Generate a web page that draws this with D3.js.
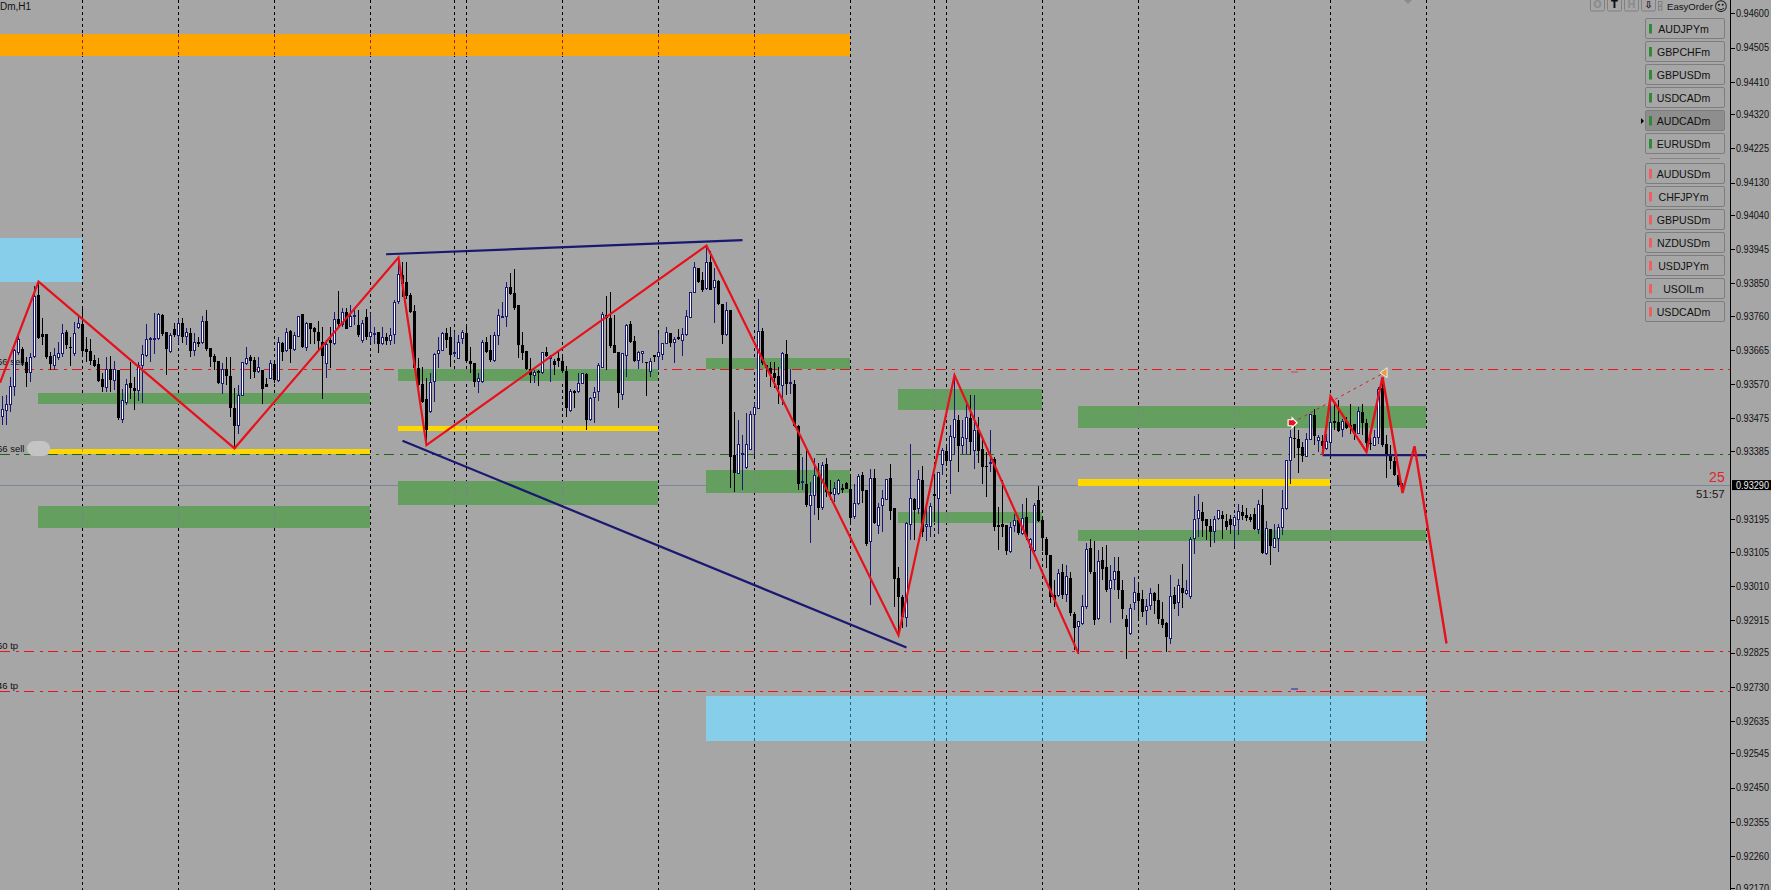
<!DOCTYPE html>
<html><head><meta charset="utf-8">
<style>html,body{margin:0;padding:0;background:#a6a6a6;overflow:hidden}svg{display:block}text{font-family:"Liberation Sans",Arial,sans-serif}</style>
<script src="https://cdn.jsdelivr.net/npm/d3@7/dist/d3.min.js"></script></head><body>
<div id="chart"></div>
<script>
// prices in 1e-5 units, one entry per H1 bar
const opens=[93480,93498,93515,93563,93658,93669,93632,93602,93646,93818,93709,93709,93648,93621,93645,93654,93715,93674,93654,93728,93737,93668,93662,93637,93626,93584,93561,93613,93580,93610,93473,93519,93573,93560,93552,93621,93650,93695,93695,93697,93763,93715,93660,93722,93706,93739,93702,93713,93665,93687,93687,93746,93670,93648,93634,93571,93611,93593,93504,93456,93539,93628,93645,93637,93605,93610,93571,93586,93626,93580,93685,93665,93717,93667,93702,93765,93672,93739,93726,93716,93688,93628,93693,93682,93752,93737,93770,93730,93759,93734,93691,93756,93702,93709,93715,93682,93700,93691,93707,93799,93873,93855,93818,93773,93614,93571,93528,93494,93577,93654,93665,93711,93700,93654,93642,93697,93711,93635,93628,93577,93577,93688,93665,93635,93706,93756,93757,93839,93822,93789,93679,93661,93613,93593,93606,93602,93659,93641,93635,93643,93634,93608,93498,93552,93549,93571,93598,93471,93532,93549,93617,93763,93754,93679,93659,93541,93650,93737,93689,93635,93654,93632,93605,93650,93646,93652,93683,93711,93685,93700,93691,93707,93756,93824,93894,93859,93836,93909,93839,93857,93793,93707,93776,93374,93323,93375,93339,93389,93485,93503,93718,93623,93614,93600,93592,93567,93653,93572,93572,93455,93296,93294,93233,93261,93313,93229,93348,93271,93265,93267,93281,93296,93280,93202,93239,93317,93276,93132,93309,93179,93232,93250,93309,93225,93032,92980,92922,93181,93250,93225,93303,93176,93176,93265,93253,93347,93384,93357,93422,93470,93401,93419,93477,93387,93444,93390,93344,93350,93362,93179,93181,93179,93105,93178,93192,93156,93200,93118,93107,93248,93192,93141,93095,92984,92984,93049,92987,93031,92932,92896,92906,92952,93114,93049,92920,93081,93063,93003,93028,93052,93000,92917,92878,92963,92989,92975,92942,92956,92989,92972,92917,92907,92864,92986,92963,93005,92989,92980,93141,93196,93214,93196,93176,93160,93196,93207,93190,93195,93177,93195,93216,93206,93201,93211,93166,93234,93100,93167,93118,93141,93171,93224,93357,93422,93419,93396,93370,93416,93484,93414,93412,93391,93409,93467,93464,93444,93467,93456,93459,93433,93492,93462,93407,93400,93423,93560,93405,93377,93357,93319,93287];
const closes=[93500,93515,93565,93663,93695,93630,93602,93645,93815,93697,93702,93645,93626,93650,93656,93711,93679,93671,93711,93739,93663,93659,93635,93621,93580,93561,93610,93582,93610,93475,93524,93568,93559,93552,93621,93652,93695,93698,93698,93765,93709,93669,93704,93707,93739,93700,93715,93663,93687,93685,93745,93667,93645,93633,93573,93611,93593,93504,93454,93539,93630,93642,93635,93605,93617,93556,93563,93628,93582,93685,93660,93715,93669,93704,93757,93672,93739,93724,93715,93691,93648,93679,93685,93750,93737,93769,93724,93759,93761,93706,93739,93702,93715,93711,93683,93700,93691,93706,93796,93876,93848,93815,93771,93614,93568,93522,93443,93574,93652,93663,93711,93693,93651,93658,93687,93715,93635,93626,93577,93585,93687,93660,93637,93706,93761,93759,93839,93820,93781,93679,93658,93611,93597,93602,93602,93658,93648,93646,93623,93635,93608,93503,93549,93545,93573,93600,93471,93531,93548,93621,93765,93754,93676,93658,93545,93654,93734,93688,93635,93658,93660,93628,93634,93645,93658,93683,93713,93685,93695,93695,93707,93757,93824,93894,93855,93831,93909,93833,93859,93793,93707,93776,93369,93323,93404,93378,93404,93487,93506,93716,93628,93614,93598,93586,93567,93655,93572,93574,93453,93294,93299,93234,93261,93317,93227,93344,93271,93265,93280,93302,93279,93279,93199,93239,93315,93274,93126,93308,93185,93229,93253,93305,93218,93028,92980,92924,93183,93253,93220,93305,93160,93181,93231,93260,93324,93385,93357,93424,93472,93398,93422,93477,93410,93442,93385,93340,93340,93354,93174,93174,93174,93107,93172,93192,93156,93197,93146,93139,93234,93191,93144,93095,92980,92972,93044,92984,93035,92934,92892,92910,92954,93111,93049,92915,93077,93058,93000,93026,93049,93000,92947,92896,92947,92993,92968,92938,92954,92989,92968,92917,92901,92867,92981,92961,93011,92989,92996,93140,93194,93220,93190,93176,93160,93194,93218,93195,93174,93178,93200,93216,93204,93199,93194,93167,93236,93100,93169,93120,93141,93172,93226,93357,93423,93420,93392,93370,93416,93485,93425,93423,93398,93412,93465,93462,93440,93466,93449,93451,93431,93493,93462,93407,93405,93423,93555,93400,93375,93357,93317,93289,93290];
const highs=[93536,93540,93591,93668,93711,93674,93646,93656,93843,93855,93753,93709,93660,93670,93688,93737,93720,93702,93744,93756,93778,93702,93695,93651,93642,93600,93646,93648,93635,93610,93556,93584,93633,93591,93633,93679,93737,93702,93767,93769,93765,93715,93711,93741,93750,93753,93725,93725,93711,93702,93759,93776,93670,93654,93634,93628,93646,93646,93559,93568,93633,93672,93651,93646,93646,93610,93586,93637,93628,93700,93688,93725,93720,93716,93759,93765,93744,93741,93730,93746,93728,93693,93728,93771,93829,93781,93781,93790,93781,93776,93748,93778,93767,93730,93716,93728,93711,93725,93804,93919,93910,93910,93822,93790,93642,93619,93586,93600,93656,93702,93716,93725,93728,93716,93707,93720,93728,93674,93630,93600,93693,93702,93707,93716,93778,93799,93855,93880,93889,93790,93716,93663,93642,93610,93610,93660,93672,93651,93639,93660,93645,93621,93556,93554,93600,93600,93600,93535,93563,93628,93771,93815,93827,93762,93660,93654,93737,93746,93704,93663,93663,93632,93642,93651,93711,93685,93730,93713,93702,93724,93725,93776,93827,93910,93894,93882,93954,93941,93892,93859,93794,93799,93776,93494,93471,93429,93489,93496,93517,93808,93725,93623,93633,93633,93619,93660,93692,93613,93581,93456,93368,93396,93299,93364,93350,93354,93364,93303,93299,93308,93294,93299,93313,93294,93322,93327,93276,93336,93336,93239,93276,93308,93348,93225,93063,92984,93188,93403,93253,93331,93342,93229,93239,93317,93327,93394,93396,93456,93595,93484,93470,93527,93539,93539,93479,93424,93382,93444,93368,93229,93303,93179,93188,93211,93192,93237,93255,93142,93241,93287,93197,93146,93095,93026,93058,93072,93068,93049,92938,92910,92984,93128,93139,93135,93109,93118,93123,93067,93090,93089,93026,92929,92961,93035,93016,93000,92975,93003,92993,93015,92966,92910,93040,93007,93030,93072,93026,93146,93259,93264,93243,93197,93197,93203,93222,93218,93211,93206,93206,93237,93234,93225,93211,93225,93248,93280,93190,93169,93183,93183,93277,93357,93444,93474,93442,93410,93435,93488,93502,93428,93428,93433,93539,93521,93525,93474,93479,93514,93459,93507,93516,93474,93423,93442,93562,93585,93428,93400,93368,93345,93295];
const lows=[93457,93457,93494,93536,93651,93621,93563,93577,93642,93695,93679,93639,93610,93610,93637,93646,93667,93621,93648,93722,93650,93633,93623,93617,93577,93548,93549,93548,93554,93471,93463,93512,93528,93498,93524,93519,93645,93633,93654,93693,93704,93596,93658,93700,93683,93685,93679,93645,93648,93672,93683,93663,93617,93610,93571,93543,93568,93480,93397,93432,93537,93623,93585,93586,93600,93515,93561,93584,93573,93577,93635,93660,93630,93663,93700,93670,93663,93683,93683,93663,93530,93586,93614,93679,93725,93730,93722,93728,93734,93702,93685,93693,93688,93683,93658,93679,93679,93679,93683,93793,93813,93808,93767,93610,93563,93517,93406,93489,93522,93614,93663,93670,93619,93646,93639,93683,93630,93600,93563,93547,93574,93656,93633,93633,93679,93753,93730,93818,93776,93642,93637,93610,93573,93573,93565,93598,93645,93577,93596,93617,93600,93480,93494,93503,93547,93571,93443,93469,93463,93524,93614,93610,93670,93656,93503,93526,93591,93685,93633,93611,93628,93538,93591,93633,93610,93637,93682,93674,93628,93693,93648,93704,93753,93822,93850,93827,93831,93831,93741,93790,93683,93704,93281,93272,93321,93276,93334,93389,93371,93500,93623,93591,93563,93559,93516,93512,93539,93544,93450,93276,93276,93229,93128,93206,93192,93220,93257,93248,93243,93262,93267,93278,93188,93197,93234,93239,93120,92957,93183,93154,93160,93248,93192,92952,92873,92892,92895,93137,93137,93211,93146,93135,93146,93188,93155,93317,93342,93266,93373,93327,93377,93376,93373,93336,93350,93292,93257,93327,93163,93111,93146,93095,93100,93160,93151,93151,93137,93056,93105,93188,93107,93061,92963,92952,92980,92975,92966,92926,92832,92822,92901,92947,93044,92901,92915,93026,92993,92907,92998,92975,92919,92808,92873,92942,92915,92924,92901,92942,92933,92904,92892,92827,92850,92947,92926,92950,92984,92975,93098,93146,93146,93137,93118,93129,93192,93141,93164,93155,93120,93152,93192,93190,93188,93164,93153,93098,93095,93067,93116,93104,93151,93222,93294,93366,93324,93354,93368,93414,93400,93382,93375,93387,93377,93442,93437,93423,93447,93433,93416,93431,93428,93382,93387,93398,93403,93396,93311,93336,93314,93285,93270];

const sessionBars=[20,44,68,92,113,116,140,164,188,212,233,236,260,284,308,332,356];
// zones: [first bar, last bar, upper price, lower price, kind]
const zones=[
 [-1,212,94543,94481,"orange"],[-1,20,93977,93854,"sky"],[176,356,92704,92580,"sky"],
 [9,92,93546,93515,"green"],[9,92,93232,93172,"green"],[9,92,93391,93375,"gold"],
 [99,164,93611,93579,"green"],[99,164,93454,93439,"gold"],[99,164,93300,93235,"green"],
 [176,212,93642,93613,"green"],[176,212,93331,93268,"green"],
 [224,260,93558,93498,"green"],[224,260,93215,93184,"green"],
 [269,356,93509,93448,"green"],[269,332,93306,93288,"gold"],[269,356,93164,93134,"green"]];
const zigzagBars=[-0.625,9,58,99,106,176,224,238,269];
const zigzagPrices=[93574,93855,93392,93922,93401,93955,92873,93595,92822];
const projectionBars=[330,332,341,345,350,353,361];
const projectionPrices=[93373,93536,93382,93590,93268,93398,92850];
const trendLines=[[95.9,93931,185,93970],[100,93413,226,92839],[330,93373,356,93373]];
const dashedRed=[93612,92829,92718];
const dashedGreen=[93375];
const lastPrice=93290;
const axisTicks=[94600,94505,94410,94320,94225,94130,94040,93945,93850,93760,93665,93570,93475,93385,93195,93105,93010,92915,92825,92730,92635,92545,92450,92355,92260,92170];
const buyButtons=["AUDJPYm","GBPCHFm","GBPUSDm","USDCADm","AUDCADm","EURUSDm"];
const sellButtons=["AUDUSDm","CHFJPYm","GBPUSDm","NZDUSDm","USDJPYm","USOILm","USDCADm"];
const activeButton="AUDCADm";

const W=1771,H=890,axisX=1730.5;
const x=d3.scaleLinear().domain([0,1]).range([2.5,6.5]);
const yP=d3.scaleLinear().domain([0.946,0.9226]).range([13.3,856]);
const y=v=>yP(v/1e5);
const svg=d3.select("#chart").append("svg").attr("width",W).attr("height",H).attr("viewBox",`0 0 ${W} ${H}`);
svg.append("rect").attr("width",W).attr("height",H).attr("fill","#a6a6a6");
svg.append("clipPath").attr("id","plot").append("rect").attr("width",axisX).attr("height",H);
const plot=svg.append("g").attr("clip-path","url(#plot)");

const dash="10 6 3 5";
const hl=plot.append("g").attr("shape-rendering","crispEdges");
hl.selectAll(".r").data(dashedRed).join("line").attr("x1",0).attr("x2",axisX).attr("y1",y).attr("y2",y).attr("stroke","#e8141e").attr("stroke-dasharray",dash);
hl.selectAll(".g").data(dashedGreen).join("line").attr("x1",0).attr("x2",axisX).attr("y1",y).attr("y2",y).attr("stroke","#1a661a").attr("stroke-dasharray",dash);
hl.append("line").attr("x1",0).attr("x2",axisX).attr("y1",y(lastPrice)).attr("y2",y(lastPrice)).attr("stroke","#778899");

const vl=plot.append("g").attr("shape-rendering","crispEdges");
vl.selectAll("line").data(sessionBars).join("line").attr("x1",x).attr("x2",x).attr("y1",0).attr("y2",H).attr("stroke","#000").attr("stroke-dasharray","3 3");

const zoneFill={orange:"#ffa500",sky:"#87ceeb",green:"#659f5f",gold:"#ffd700"};
const crossColor={orange:"#a0203a",sky:"#15697a",green:"#8a74a0",gold:"#c0a020"};
const zoneLeft=d=>d[0]<0?0:x(d[0])-0.75;
const zoneRight=d=>x(d[1])-0.25;
plot.append("g").attr("shape-rendering","crispEdges").selectAll("rect").data(zones).join("rect")
 .attr("x",zoneLeft).attr("width",d=>zoneRight(d)-zoneLeft(d))
 .attr("y",d=>y(d[2])).attr("height",d=>y(d[3])-y(d[2])).attr("fill",d=>zoneFill[d[4]]);
const cross=plot.append("g").attr("shape-rendering","crispEdges");
zones.forEach(z=>sessionBars.filter(b=>b>z[0]&&b<z[1]).forEach(b=>{
 cross.append("line").attr("x1",x(b)).attr("x2",x(b)).attr("y1",y(z[2])).attr("y2",y(z[3])).attr("stroke",crossColor[z[4]]).attr("stroke-dasharray","3 3");
}));

const chartLabels=[["66 sell",362,-3],["66 sell",448.7,-3],["60 tp",646,-3],["46 tp",686,-3]];
plot.append("g").selectAll("text").data(chartLabels).join("text").attr("x",d=>d[2]).attr("y",d=>d[1]).attr("dy","0.35em").attr("font-size",9.5).attr("fill","#111").text(d=>d[0]);
plot.append("rect").attr("x",27).attr("y",441).attr("width",23).attr("height",15).attr("rx",7.5).attr("fill","#c4c4c4");

// candles
const bars=opens.map((o,i)=>({i,o,c:closes[i],h:highs[i],l:lows[i]}));
const cg=plot.append("g").attr("shape-rendering","crispEdges");
const cs=cg.selectAll("g").data(bars).join("g");
cs.append("line").attr("x1",d=>x(d.i)).attr("x2",d=>x(d.i)).attr("y1",d=>y(d.h)).attr("y2",d=>y(d.l)).attr("stroke",d=>d.c>=d.o?"#191970":"#000");
cs.append("rect").attr("x",d=>x(d.i)-(d.c>=d.o?1:1.5)).attr("width",d=>d.c>=d.o?2:3)
 .attr("y",d=>y(Math.max(d.o,d.c))).attr("height",d=>Math.max(d.c>=d.o?1:1.5,Math.abs(y(d.o)-y(d.c))))
 .attr("fill",d=>d.c>=d.o?"#fff":"#000").attr("stroke",d=>d.c>=d.o?"#191970":"none");

// trend lines
plot.append("g").selectAll("line").data(trendLines).join("line").attr("x1",d=>x(d[0])).attr("y1",d=>y(d[1])).attr("x2",d=>x(d[2])).attr("y2",d=>y(d[3])).attr("stroke","#191970").attr("stroke-width",2.2);
// zigzags
const line=d3.line().x(d=>x(d[0])).y(d=>y(d[1]));
plot.append("path").attr("d",line(zigzagBars.map((b,i)=>[b,zigzagPrices[i]]))).attr("fill","none").attr("stroke","#e8101a").attr("stroke-width",2.2).attr("stroke-linejoin","miter");
plot.append("path").attr("d",line(projectionBars.map((b,i)=>[b,projectionPrices[i]]))).attr("fill","none").attr("stroke","#e8101a").attr("stroke-width",2.4);

// trade markers
const entry=[322.4,93463],exit=[345.4,93602];
plot.append("line").attr("x1",x(entry[0])).attr("y1",y(entry[1])).attr("x2",x(exit[0])).attr("y2",y(exit[1])).attr("stroke","#c8202a").attr("stroke-dasharray","3 4");
plot.append("path").attr("transform",`translate(${x(entry[0])},${y(entry[1])})`).attr("d","M-4,-3L0,-3L0,-5L5,0L0,5L0,3L-4,3Z").attr("fill","#e5121c").attr("stroke","#fff").attr("stroke-width",1.2);
plot.append("path").attr("transform",`translate(${x(exit[0])},${y(exit[1])})`).attr("d","M-4,0L3,-5L3,5Z").attr("fill","#e0a040").attr("stroke","#fff").attr("stroke-width",0.8);
plot.append("line").attr("x1",1291).attr("x2",1298).attr("y1",372).attr("y2",372).attr("stroke","#e0404a");
plot.append("line").attr("x1",1291).attr("x2",1298).attr("y1",689).attr("y2",689).attr("stroke","#2020c0");
plot.append("path").attr("d","M1404,0L1412,0L1408,4Z").attr("fill","#8c8c8c");

// price annotations
plot.append("text").attr("x",1724.7).attr("y",476.7).attr("dy","0.35em").attr("text-anchor","end").attr("font-size",14).attr("fill","#e0242c").text("25");
plot.append("text").attr("x",1724.7).attr("y",494).attr("dy","0.35em").attr("text-anchor","end").attr("font-size",11.5).attr("fill","#1a1a1a").text("51:57");
plot.append("text").attr("x",0).attr("y",6.5).attr("dy","0.35em").attr("font-size",10).attr("fill","#111").text("Dm,H1");

// buttons
const panel=svg.append("g");
function button(name,top,col){
 const on=name===activeButton&&col==="#2f8a35";
 panel.append("rect").attr("x",1645.5).attr("y",top).attr("width",79).attr("height",20).attr("rx",1.5).attr("fill",on?"#8e8e8e":"#a6a6a6").attr("stroke","#7d7d7d");
 panel.append("rect").attr("x",1649).attr("y",top+5.5).attr("width",3).attr("height",9.5).attr("fill",col);
 panel.append("text").attr("x",1683.5).attr("y",top+10.3).attr("dy","0.35em").attr("text-anchor","middle").attr("font-size",10.6).attr("fill","#111").text(name);
 if(on)panel.append("path").attr("d",`M1641,${top+7.5}L1644,${top+10.5}L1641,${top+13.5}Z`).attr("fill","#000");
}
buyButtons.forEach((n,i)=>button(n,18.5+i*23,"#2f8a35"));
sellButtons.forEach((n,i)=>button(n,163.5+i*23,"#ef5f62"));
panel.append("line").attr("x1",1650).attr("x2",1720).attr("y1",158.5).attr("y2",158.5).attr("stroke","#858585");
[["O",1590,"#8c8c8c"],["T",1607,"#111"],["H",1624,"#8c8c8c"],["⇩",1641,"#111"]].forEach(d=>{
 panel.append("rect").attr("x",d[1]+.5).attr("y",-3).attr("width",14).attr("height",14).attr("rx",1.5).attr("fill","#a6a6a6").attr("stroke","#808080");
 panel.append("text").attr("x",d[1]+7.5).attr("y",4.5).attr("dy","0.35em").attr("text-anchor","middle").attr("font-size",10).attr("font-weight","bold").attr("fill",d[2]).style("font-family","DejaVu Sans").text(d[0]);
});
[1.5,6.5].forEach(t=>panel.append("rect").attr("x",1658.5).attr("y",t).attr("width",3.5).attr("height",3.5).attr("fill","none").attr("stroke","#808080"));
panel.append("text").attr("x",1667).attr("y",6.7).attr("dy","0.35em").attr("font-size",9.6).attr("fill","#111").text("EasyOrder");
panel.append("text").attr("x",1714).attr("y",6.7).attr("dy","0.35em").attr("font-size",13).attr("fill","#111").style("font-family","DejaVu Sans").text("☺");

// price axis: labels horizontally condensed so they fit the 40px gutter
svg.append("line").attr("x1",axisX).attr("x2",axisX).attr("y1",0).attr("y2",H).attr("stroke","#000").attr("shape-rendering","crispEdges");
const ax=svg.append("g").attr("transform",`translate(${axisX},0)`).call(d3.axisRight(yP).tickValues(axisTicks.map(v=>v/1e5)).tickSize(4).tickPadding(1.5).tickFormat(d3.format(".5f")));
ax.select(".domain").remove();
ax.selectAll("line").attr("stroke","#000").attr("shape-rendering","crispEdges");
ax.selectAll("text").attr("fill","#111").attr("font-size",10.5).attr("x",0).attr("transform","translate(5.5,0) scale(0.87,1)");
svg.append("rect").attr("x",1732).attr("y",y(lastPrice)-5).attr("width",39).attr("height",10).attr("fill","#000");
svg.append("text").attr("transform",`translate(1736,${y(lastPrice)}) scale(0.87,1)`).attr("dy","0.35em").attr("font-size",10.5).attr("fill","#eee").text(d3.format(".5f")(lastPrice/1e5));
</script></body></html>
